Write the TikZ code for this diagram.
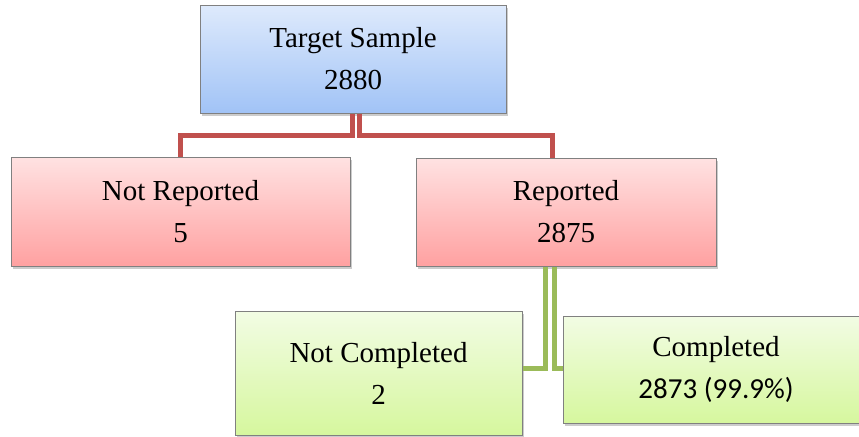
\documentclass[tikz,border=0pt]{standalone}
\usepackage{fontspec}
\setmainfont{Liberation Serif}
\newfontfamily\calibrifont{Carlito}
\usetikzlibrary{positioning, shadows}
\definecolor{BlueTop}{RGB}{222,234,252}
\definecolor{BlueBottom}{RGB}{161,195,246}
\definecolor{RedTop}{RGB}{255,226,226}
\definecolor{RedBottom}{RGB}{255,161,161}
\definecolor{GreenTop}{RGB}{242,252,228}
\definecolor{GreenBottom}{RGB}{214,247,158}
\definecolor{LineRed}{RGB}{192,80,77}
\definecolor{LineGreen}{RGB}{155,187,89}

\begin{document}
\begin{tikzpicture}[
    x=0.75pt, y=-0.75pt,
    font=\fontsize{21.75}{31.5}\selectfont,
    box/.style={draw=black!50, line width=0.75pt, inner sep=0pt, align=center,
        drop shadow={shadow xshift=1.5pt, shadow yshift=-2.5pt, opacity=0.4}},
    bluebox/.style={box, top color=BlueTop, bottom color=BlueBottom},
    redbox/.style={box, top color=RedTop, bottom color=RedBottom},
    greenbox/.style={box, top color=GreenTop, bottom color=GreenBottom},
    redlink/.style={LineRed, line width=3.75pt},
    greenlink/.style={LineGreen, line width=3.75pt},
]
\path[use as bounding box] (0,0) rectangle (859,436);

% --- muestra ---
\node[bluebox, minimum width=229.5pt, minimum height=81pt] (target) at (353,59)
    {Target Sample\\2880};

% --- primer nivel ---
\node[redbox, minimum width=254.25pt, minimum height=81.75pt] (notrep) at (180.5,211.5)
    {Not Reported\\5};
\node[redbox, minimum width=225pt, minimum height=81pt] (rep) at (566,212)
    {Reported\\2875};

% --- segundo nivel ---
\node[greenbox, minimum width=215.25pt, minimum height=93pt] (notcomp) at (378.5,373)
    {Not Completed\\2};
\node[greenbox, minimum width=229.5pt, minimum height=80.25pt] (comp) at (716,369.5)
    {Completed\\{\calibrifont 2873 (99.9\%)}};

% conectores
\draw[redlink] ([xshift=-0.4pt]target.south) -- ++(0,22) -| (notrep.north);
\draw[redlink] ([xshift=4.65pt]target.south) -- ++(0,22) -| ([xshift=-10.5pt]rep.north);
\draw[greenlink] ([xshift=-15.75pt]rep.south) |- ([yshift=3.75pt]notcomp.east);
\draw[greenlink] ([xshift=-8.75pt]rep.south) |- ([yshift=1.1pt]comp.west);

\end{tikzpicture}
\end{document}
